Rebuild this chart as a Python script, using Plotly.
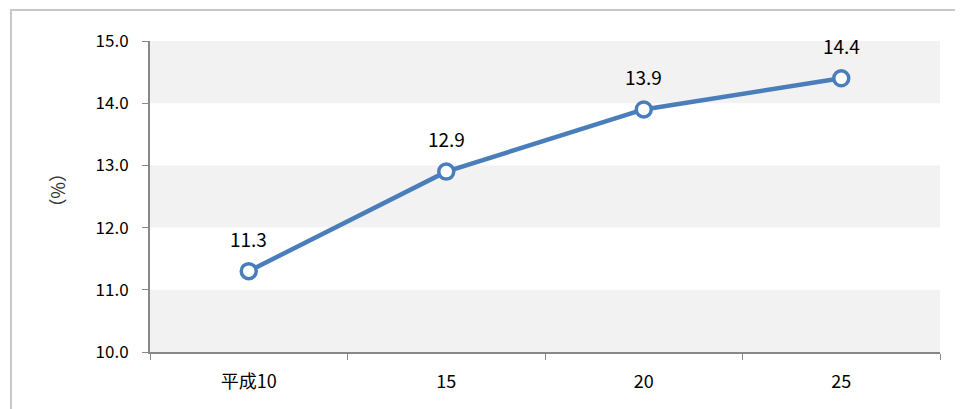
import plotly.graph_objects as go

years = ["平成10", "15", "20", "25"]
values = [11.3, 12.9, 13.9, 14.4]
labels = ["11.3", "12.9", "13.9", "14.4"]

fig = go.Figure()
# alternating gray bands
for lo in [10, 12, 14]:
    fig.add_shape(type="rect", xref="x domain", yref="y", x0=0, x1=1, y0=lo, y1=lo + 1,
                  fillcolor="#f2f2f2", line_width=0, layer="below")

fig.add_trace(go.Scatter(
    x=years, y=values, mode="lines+markers",
    line=dict(color="#4a7ebb", width=4.5),
    marker=dict(size=15, color="white", line=dict(color="#4a7ebb", width=3.5)),
    cliponaxis=False,
))
for i, (y, t) in enumerate(zip(values, labels)):
    fig.add_annotation(x=i, y=y, text=t, showarrow=False, yshift=33,
                       font=dict(size=19, color="black", family="Noto Sans CJK JP"))

fig.add_shape(type="rect", xref="paper", yref="paper", x0=-0.176, x1=1.05, y0=-0.3, y1=1.1,
              line=dict(color="#c8c8c8", width=2), fillcolor="rgba(0,0,0,0)")

fig.add_annotation(text="（%）", xref="paper", yref="paper", x=-0.135, y=0.52,
                   showarrow=False, textangle=90,
                   font=dict(size=18, color="#333", family="Noto Sans CJK JP"))

fig.update_layout(
    width=963, height=409, showlegend=False,
    plot_bgcolor="white", paper_bgcolor="white",
    margin=dict(l=142, r=31, t=33, b=65),
    font=dict(family="Noto Sans CJK JP", size=17, color="black"),
)
fig.update_xaxes(type="category", categoryorder="array", categoryarray=years,
                 range=[-0.5, 3.5], showline=True, linecolor="#888", linewidth=2,
                 ticks="outside", tickcolor="#888", ticklen=6, tickson="boundaries",
                 showgrid=False, tickfont=dict(size=18), tickangle=0, ticklabelstandoff=12)
fig.update_yaxes(range=[10, 15], dtick=1, tickformat=".1f", showline=True,
                 linecolor="#888", linewidth=2, ticks="outside", tickcolor="#888",
                 ticklen=6, showgrid=False, zeroline=False, tickfont=dict(size=17),
                 ticklabelstandoff=10)

fig.write_html("out.html")
